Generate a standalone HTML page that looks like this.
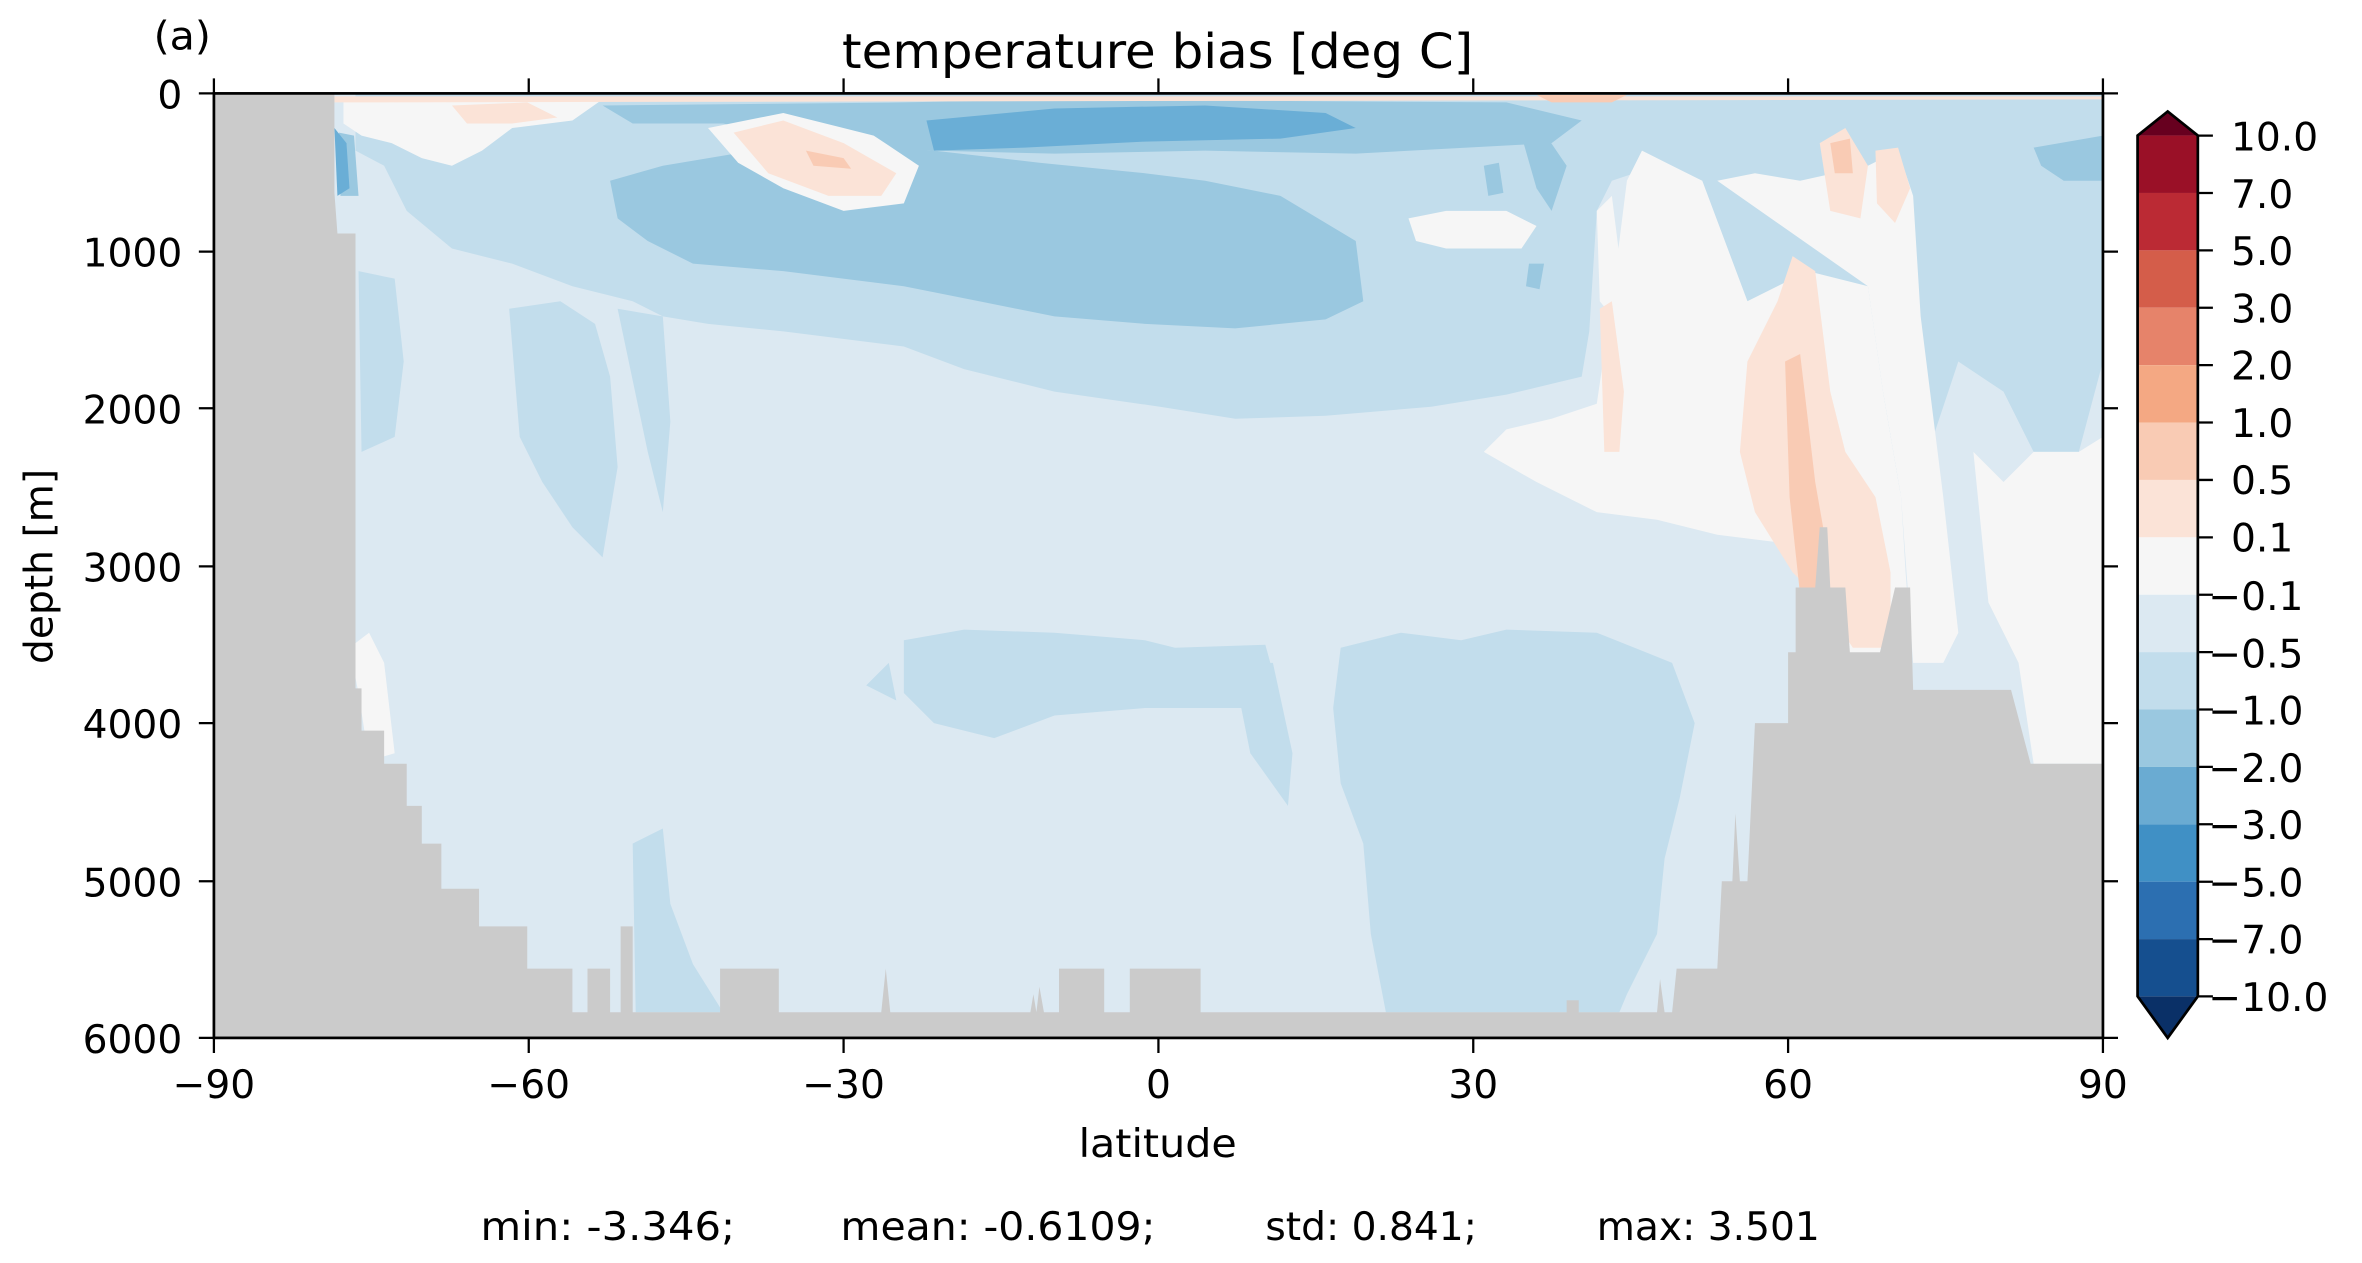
<!DOCTYPE html>
<html><head><meta charset="utf-8"><style>
html,body{margin:0;padding:0;background:#fff;}
svg{display:block;}
text{font-family:"DejaVu Sans","Liberation Sans",sans-serif;fill:#000;}
</style></head><body>
<svg width="2362" height="1263" viewBox="0 0 2362 1263" xmlns="http://www.w3.org/2000/svg">
<defs><clipPath id="ax"><rect x="142" y="62" width="1254" height="627"/></clipPath></defs>
<g transform="scale(1.5064)">
<g clip-path="url(#ax)">
<rect x="142" y="62" width="1254" height="627" fill="#dce9f2"/>
<path fill="#c2ddec" d="M236,62 L1396,62 L1396,240 L1380,300 L1350,300 L1330,260 L1300,240 L1280,300 L1260,330 L1250,260 L1240,190 L1200,180 L1160,200 L1130,120 L1100,110 L1070,120 L1060,140 L1055,220 L1050,250 L1000,262 L950,270 L880,276 L820,278 L770,270 L700,260 L640,245 L600,230 L520,220 L470,215 L440,210 L420,200 L400,195 L380,190 L340,175 L300,165 L270,140 L255,110 L236,100 Z"/>
<path fill="#c2ddec" d="M338,205 L372,200 L395,215 L405,250 L410,310 L400,370 L380,350 L360,320 L345,290 Z"/>
<path fill="#c2ddec" d="M238,180 L262,185 L268,240 L262,290 L240,300 Z"/>
<path fill="#c2ddec" d="M410,205 L440,210 L445,280 L440,340 L430,300 Z"/>
<path fill="#c2ddec" d="M600,425 L640,418 L700,420 L760,425 L780,430 L840,428 L850,465 L830,470 L790,470 L760,470 L700,475 L660,490 L620,480 L600,460 Z"/>
<path fill="#c2ddec" d="M575,455 L590,440 L595,465 Z"/>
<path fill="#c2ddec" d="M890,430 L930,420 L970,425 L1000,418 L1060,420 L1110,440 L1125,480 L1115,530 L1105,570 L1100,620 L1080,660 L1075,672 L920,672 L910,620 L905,560 L890,520 L885,470 Z"/>
<path fill="#c2ddec" d="M420,560 L440,550 L445,600 L460,640 L480,672 L422,672 Z"/>
<path fill="#c2ddec" d="M818,440 L845,440 L858,500 L855,535 L830,500 Z"/>
<path fill="#9ac8e0" d="M405,120 L440,110 L500,100 L560,95 L620,100 L690,108 L760,115 L800,120 L850,130 L900,160 L905,200 L880,212 L820,218 L760,215 L700,210 L650,200 L600,190 L520,180 L460,175 L430,160 L410,145 Z"/>
<path fill="#9ac8e0" d="M400,70 L600,68 L700,66 L1000,68 L1050,80 L1030,95 L900,102 L800,100 L700,102 L620,100 L540,95 L480,82 L420,82 Z"/>
<path fill="#9ac8e0" d="M1350,98 L1396,90 L1396,120 L1370,120 L1355,110 Z"/>
<path fill="#9ac8e0" d="M1010,90 L1025,88 L1040,110 L1030,140 L1020,125 Z"/>
<path fill="#9ac8e0" d="M985,110 L995,108 L998,128 L988,130 Z"/>
<path fill="#9ac8e0" d="M1015,175 L1025,175 L1022,192 L1013,190 Z"/>
<path fill="#9ac8e0" d="M225,88 L235,90 L238,130 L226,130 Z"/>
<path fill="#6aaed6" d="M615,80 L700,72 L800,70 L880,75 L900,85 L850,92 L760,94 L680,98 L620,100 Z"/>
<path fill="#6aaed6" d="M222,85 L230,95 L232,125 L224,130 Z"/>
<path fill="#f6f6f6" d="M985,300 L1000,285 L1030,278 L1060,268 L1070,200 L1080,120 L1090,100 L1110,110 L1130,120 L1160,200 L1200,180 L1240,190 L1250,260 L1262,330 L1265,380 L1268,420 L1255,440 L1230,440 L1210,400 L1180,360 L1140,355 L1100,345 L1060,340 L1020,320 Z"/>
<path fill="#f6f6f6" d="M1140,120 L1165,115 L1195,120 L1240,110 L1260,100 L1270,130 L1275,210 L1290,330 L1300,420 L1290,440 L1270,440 L1262,330 L1250,260 L1240,190 Z"/>
<path fill="#f6f6f6" d="M1310,300 L1330,320 L1350,300 L1380,300 L1396,290 L1396,507 L1350,507 L1340,440 L1320,400 Z"/>
<path fill="#f6f6f6" d="M1060,140 L1070,130 L1075,170 L1070,210 L1062,200 Z"/>
<path fill="#f6f6f6" d="M232,430 L245,420 L255,440 L262,500 L245,505 L238,460 Z"/>
<path fill="#f6f6f6" d="M935,145 L960,140 L1000,140 L1020,150 L1010,165 L960,165 L940,160 Z"/>
<path fill="#f6f6f6" d="M228,66 L400,66 L380,80 L340,85 L320,100 L300,110 L280,105 L260,95 L240,90 L228,82 Z"/>
<path fill="#f6f6f6" d="M470,85 L520,75 L580,90 L610,110 L600,135 L560,140 L520,125 L490,108 Z"/>
<path fill="#fbe3d7" d="M1160,240 L1180,200 L1190,170 L1205,180 L1215,260 L1225,300 L1245,330 L1255,380 L1255,430 L1230,430 L1210,400 L1190,380 L1165,340 L1155,300 Z"/>
<path fill="#fbe3d7" d="M1062,205 L1070,200 L1078,260 L1075,300 L1065,300 Z"/>
<path fill="#fbe3d7" d="M487,88 L520,80 L560,95 L595,115 L585,130 L550,130 L510,115 Z"/>
<path fill="#fbe3d7" d="M222,64 L1396,64 L1396,66 L222,68 Z"/>
<path fill="#fbe3d7" d="M1208,95 L1225,85 L1240,110 L1235,145 L1215,140 Z"/>
<path fill="#fbe3d7" d="M1245,100 L1260,98 L1268,125 L1258,148 L1246,135 Z"/>
<path fill="#fbe3d7" d="M300,70 L350,68 L370,78 L340,82 L310,82 Z"/>
<path fill="#f9cbb4" d="M1185,240 L1195,235 L1205,320 L1212,360 L1210,400 L1195,395 L1188,330 Z"/>
<path fill="#f9cbb4" d="M1215,95 L1228,92 L1230,115 L1218,115 Z"/>
<path fill="#f9cbb4" d="M535,100 L560,105 L565,112 L540,110 Z"/>
<path fill="#f9cbb4" d="M1020,63 L1080,63 L1070,68 L1030,68 Z"/>
<path fill="#cbcbcb" d="M142,62 L222,62 L222,128 L224,155 L236,155 L236,457 L240,457 L240,485 L255,485 L255,507 L270,507 L270,535 L280,535 L280,560 L293,560 L293,590 L318,590 L318,615 L350,615 L350,643 L380,643 L380,672 L390,672 L390,643 L405,643 L405,672 L412,672 L412,615 L420,615 L420,672 L478,672 L478,643 L517,643 L517,672 L585,672 L588,643 L591,672 L684,672 L686,660 L688,672 L690,655 L693,672 L703,672 L703,643 L733,643 L733,672 L750,672 L750,643 L797,643 L797,672 L1040,672 L1040,664 L1048,664 L1048,672 L1100,672 L1102,650 L1105,672 L1110,672 L1113,643 L1140,643 L1143,585 L1150,585 L1152,540 L1155,585 L1160,585 L1165,480 L1187,480 L1187,433 L1192,433 L1192,390 L1205,390 L1208,350 L1213,350 L1215,390 L1225,390 L1228,433 L1248,433 L1258,390 L1268,390 L1270,458 L1335,458 L1348,507 L1396,507 L1396,689 L142,689 Z"/>
</g>
<rect x="142" y="62" width="1254" height="627" fill="none" stroke="#000" stroke-width="1.8"/>
<g stroke="#000" stroke-width="1.5">
<path d="M142,62 h-10 M142,167 h-10 M142,271 h-10 M142,376 h-10 M142,480 h-10 M142,585 h-10 M142,689 h-10"/>
<path d="M1396,62 h10 M1396,167 h10 M1396,271 h10 M1396,376 h10 M1396,480 h10 M1396,585 h10 M1396,689 h10"/>
<path d="M142,689 v10 M351,689 v10 M560,689 v10 M769,689 v10 M978,689 v10 M1187,689 v10 M1396,689 v10"/>
<path d="M142,62 v-10 M351,62 v-10 M560,62 v-10 M769,62 v-10 M978,62 v-10 M1187,62 v-10 M1396,62 v-10"/>
</g>
<g font-size="26" text-anchor="end">
<text x="121" y="72">0</text><text x="121" y="177">1000</text><text x="121" y="281">2000</text>
<text x="121" y="386">3000</text><text x="121" y="490">4000</text><text x="121" y="595">5000</text><text x="121" y="699">6000</text>
</g>
<g font-size="26" text-anchor="middle">
<text x="142" y="729">−90</text><text x="351" y="729">−60</text><text x="560" y="729">−30</text><text x="769" y="729">0</text>
<text x="978" y="729">30</text><text x="1187" y="729">60</text><text x="1396" y="729">90</text>
</g>
<text x="716" y="768" font-size="26" textLength="105" lengthAdjust="spacingAndGlyphs">latitude</text>
<text x="559" y="45" font-size="32" textLength="419" lengthAdjust="spacingAndGlyphs">temperature bias [deg C]</text>
<text x="102" y="33" font-size="26" textLength="38" lengthAdjust="spacingAndGlyphs">(a)</text>
<text transform="translate(35,376) rotate(-90)" font-size="26" text-anchor="middle">depth [m]</text>
<g font-size="26">
<text x="319" y="823" textLength="169" lengthAdjust="spacingAndGlyphs">min: -3.346;</text>
<text x="558" y="823" textLength="209" lengthAdjust="spacingAndGlyphs">mean: -0.6109;</text>
<text x="840" y="823">std: 0.841;</text><text x="1060" y="823">max: 3.501</text>
</g>
<g transform="translate(1419,0)">
<polygon points="0,90 20,74 40,90" fill="#67001f"/>
<rect x="0" y="90" width="40" height="38.1" fill="#9a1027"/>
<rect x="0" y="128.1" width="40" height="38.1" fill="#bb2a34"/>
<rect x="0" y="166.2" width="40" height="38.1" fill="#d45d4a"/>
<rect x="0" y="204.3" width="40" height="38.1" fill="#e6836a"/>
<rect x="0" y="242.4" width="40" height="38.1" fill="#f4a883"/>
<rect x="0" y="280.5" width="40" height="38.1" fill="#f9cbb4"/>
<rect x="0" y="318.6" width="40" height="38.1" fill="#fbe3d7"/>
<rect x="0" y="356.7" width="40" height="38.1" fill="#f6f6f6"/>
<rect x="0" y="394.8" width="40" height="38.1" fill="#dce9f2"/>
<rect x="0" y="432.9" width="40" height="38.1" fill="#c2ddec"/>
<rect x="0" y="471" width="40" height="38.1" fill="#9ac8e0"/>
<rect x="0" y="509.1" width="40" height="38.1" fill="#6aabd2"/>
<rect x="0" y="547.2" width="40" height="38.1" fill="#4090c5"/>
<rect x="0" y="585.3" width="40" height="38.1" fill="#2c6fb1"/>
<rect x="0" y="623.4" width="40" height="38" fill="#154f8f"/>
<polygon points="0,661.4 20,689 40,661.4" fill="#0a3067"/>
<polygon points="0,90 20,74 40,90 40,661.4 20,689 0,661.4" fill="none" stroke="#000" stroke-width="1.8"/>
<g stroke="#000" stroke-width="1.5">
<path d="M40,90h10 M40,128.1h10 M40,166.2h10 M40,204.3h10 M40,242.4h10 M40,280.5h10 M40,318.6h10 M40,356.7h10 M40,394.8h10 M40,432.9h10 M40,471h10 M40,509.1h10 M40,547.2h10 M40,585.3h10 M40,623.4h10 M40,661.4h10"/>
</g>
<g font-size="26">
<text x="62" y="100">10.0</text><text x="62" y="138">7.0</text><text x="62" y="176">5.0</text><text x="62" y="214">3.0</text>
<text x="62" y="252">2.0</text><text x="62" y="290">1.0</text><text x="62" y="328">0.5</text><text x="62" y="366">0.1</text>
<text x="47" y="405">−0.1</text><text x="47" y="443">−0.5</text><text x="47" y="481">−1.0</text><text x="47" y="519">−2.0</text>
<text x="47" y="557">−3.0</text><text x="47" y="595">−5.0</text><text x="47" y="633">−7.0</text><text x="47" y="671">−10.0</text>
</g>
</g>
</g>
</svg>
</body></html>
